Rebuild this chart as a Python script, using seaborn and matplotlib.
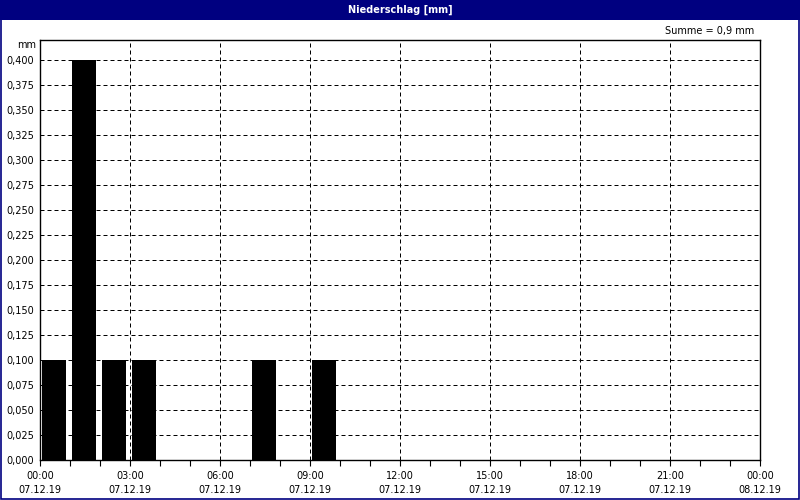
import matplotlib
matplotlib.use("Agg")
import matplotlib.pyplot as plt
import seaborn as sns
from matplotlib.patches import Rectangle
from matplotlib.ticker import MultipleLocator

# hourly precipitation, 07.12.19 00:00 - 08.12.19 00:00
hours = list(range(24))
precip = [0.1, 0.4, 0.1, 0.1, 0, 0, 0, 0.1, 0, 0.1, 0, 0,
          0, 0, 0, 0, 0, 0, 0, 0, 0, 0, 0, 0]
tick_hours = [0, 3, 6, 9, 12, 15, 18, 21, 24]
tick_labels = ["00:00\n07.12.19", "03:00\n07.12.19", "06:00\n07.12.19",
               "09:00\n07.12.19", "12:00\n07.12.19", "15:00\n07.12.19",
               "18:00\n07.12.19", "21:00\n07.12.19", "00:00\n08.12.19"]
y_ticks = [i * 0.025 for i in range(17)]
title = "Niederschlag [mm]"
summe = "Summe = 0,9 mm"

sns.set_style("white")
plt.rcParams['font.family'] = ['DejaVu Sans']
plt.rcParams['text.color'] = 'black'
plt.rcParams['xtick.color'] = 'black'
plt.rcParams['ytick.color'] = 'black'

fig = plt.figure(figsize=(8, 5), dpi=100)
fig.patch.set_facecolor("white")

# title bar and outer frame
fig.patches.append(Rectangle((0, 0.96), 1, 0.04, transform=fig.transFigure,
                             facecolor="#000080", edgecolor="none", zorder=0))
fig.patches.append(Rectangle((0.001, 0.002), 0.998, 0.996, transform=fig.transFigure,
                             facecolor="none", edgecolor="#000080", linewidth=1.2, zorder=0))
fig.text(0.5, 0.98, title, color="white", fontsize=7, fontweight="bold",
         ha="center", va="center")

ax = fig.add_axes([0.05, 0.08, 0.90, 0.84])
ax.set_facecolor("white")

x_pos = [h + 0.467 for h in hours]
sns.barplot(x=x_pos, y=precip, native_scale=True, width=0.8,
            color="black", linewidth=0, saturation=1, ax=ax)

ax.set_xlim(0, 24)
ax.set_ylim(0, 0.42)
ax.set_xticks(tick_hours)
ax.set_xticklabels(tick_labels, fontsize=7, linespacing=1.5)
ax.xaxis.set_minor_locator(MultipleLocator(1))
ax.set_yticks(y_ticks)
ax.set_yticklabels([f"{v:.3f}".replace(".", ",") for v in y_ticks], fontsize=7)

ax.tick_params(axis="x", which="both", direction="out", length=4, width=0.8,
               color="black", labelcolor="black", pad=4, bottom=True)
ax.tick_params(axis="y", length=0, pad=4, labelcolor="black")

ax.grid(True, which="major", color="black", linestyle=(0, (4, 3)), linewidth=0.72)
ax.set_axisbelow(True)
for s in ax.spines.values():
    s.set_visible(True)
    s.set_color("black")
    s.set_linewidth(1.0)

ax.set_xlabel("")
ax.set_ylabel("")
fig.text(0.045, 0.91, "mm", fontsize=7, ha="right", va="center", color="black")
fig.text(0.943, 0.938, summe, fontsize=7, ha="right", va="center", color="black")

fig.savefig("out.png", dpi=100)
